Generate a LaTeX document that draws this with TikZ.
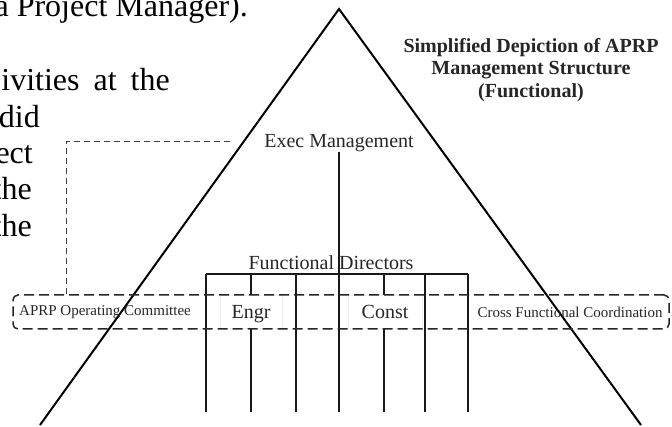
\documentclass[tikz,border=0pt]{standalone}
\usepackage{fontspec}
\setmainfont{Liberation Serif}
\usetikzlibrary{positioning}

\tikzset{
  body/.style={anchor=base east, inner sep=0pt, font=\fontsize{32}{38}\selectfont},
  lbl/.style={text=black!85, inner sep=0pt, font=\fontsize{20}{24}\selectfont},
  small/.style={text=black!85, inner sep=0pt, font=\fontsize{15}{18}\selectfont},
  unit/.style={lbl, fill=white, draw=black!6, minimum height=33pt, text height=15pt, text depth=2pt},
  groupbox/.style={draw=black!85, dash pattern=on 10pt off 5pt, line width=1.5pt,
    rounded corners=5pt, minimum width=656pt, minimum height=34pt, inner sep=0pt},
  link/.style={draw=black!75, dash pattern=on 6pt off 4pt, line width=1pt},
  org/.style={draw=black!90, line width=1.4pt},
  tri/.style={draw=black, line width=2pt}
}

\begin{document}
\begin{tikzpicture}[x=1pt,y=-1pt]
\useasboundingbox (0,0) rectangle (672,427);
\clip (0,0) rectangle (672,427);

% running text of the page
\node[body] (p1) at (248,17) {a Project Manager).};
\node[body] (p2) at (170,91) {ivities\hspace{14pt}at\hspace{14pt}the};
\node[body] (p3) at (40,128) {did};
\node[body] (p4) at (33,164) {ect};
\node[body] (p5) at (32,200) {the};
\node[body] (p6) at (32,237) {the};

% pyramid
\draw[tri] (40,425) -- (339,9) -- (641,425);

\node[font=\fontsize{20}{22.5}\selectfont\bfseries, text=black!85, align=center, inner sep=0pt]
  (title) at (531,70) {Simplified Depiction of APRP\\Management Structure\\(Functional)};

\node[lbl] (exec) at (339,143) {Exec Management};
\node[lbl] (fd) at (331,263) {Functional Directors};

% director bar and the lines under it
\coordinate (b1) at (206,274); \coordinate (e1) at (206,412);
\coordinate (b2) at (251,274); \coordinate (e2) at (251,412);
\coordinate (b3) at (296,274); \coordinate (e3) at (296,412);
\coordinate (b4) at (339,274); \coordinate (e4) at (339,412);
\coordinate (b5) at (384,274); \coordinate (e5) at (384,412);
\coordinate (b6) at (425,274); \coordinate (e6) at (425,412);
\coordinate (b7) at (468,274); \coordinate (e7) at (468,412);

\draw[org] (b1) -- (b7);
\draw[org] (exec.south) -- (e4);
\draw[org] (b1) -- (e1);
\draw[org] (b3) -- (e3);
\draw[org] (b6) -- (e6);
\draw[org] (b7) -- (e7);

\node[unit, minimum width=62pt] (engr) at (251,312) {Engr};
\node[unit, minimum width=74pt] (const) at (385,312) {Const};
\draw[org] (b2) -- (engr.north);
\draw[org] (engr.south) -- (e2);
\draw[org] (b5) -- (b5 |- const.north);
\draw[org] (b5 |- const.south) -- (e5);

% operating committee band
\node[groupbox] (ops) at (341,312) {};
\node[small] (opc) at (105,312) {APRP Operating Committee};
\node[small] (cfc) at (570,312) {Cross Functional Coordination};

\coordinate (lkend) at (233,142);
\draw[link] ([xshift=54pt]ops.north west) |- (lkend);
\end{tikzpicture}
\end{document}
